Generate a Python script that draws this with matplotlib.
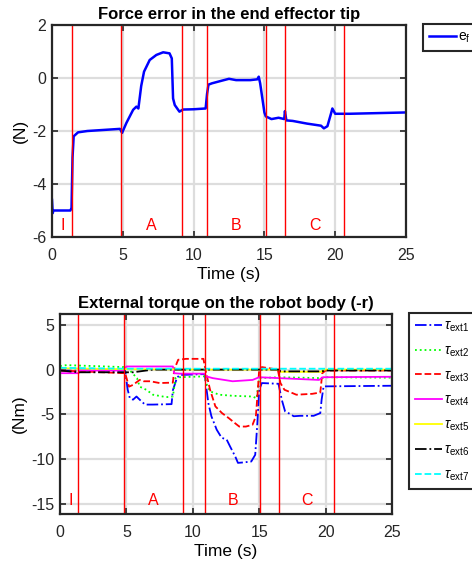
import matplotlib
matplotlib.use("Agg")
import matplotlib.pyplot as plt

plt.rcParams['font.family'] = ['Liberation Sans', 'DejaVu Sans']
plt.rcParams['mathtext.fontset'] = 'custom'
plt.rcParams['mathtext.rm'] = 'Liberation Sans'
plt.rcParams['mathtext.it'] = 'Liberation Sans:italic'
plt.rcParams['axes.unicode_minus'] = False

# ---- data ----
t_ef = [0, 0.05, 0.1, 1.3, 1.38, 1.45, 1.53, 1.84, 2.5, 4.8, 4.95, 5.25, 5.73, 5.96, 6.1, 6.3, 6.5,
        6.9, 7.37, 7.85, 8.3, 8.46, 8.55, 8.67, 9.0, 9.25, 10.0, 10.85, 10.95, 11.05, 11.3, 12.0,
        12.5, 13.0, 14.0, 14.5, 14.6, 14.7, 15.0, 15.1, 15.5, 16.0, 16.4, 16.45, 16.55, 17.0, 18.0,
        19.0, 19.2, 19.45, 19.7, 19.8, 20.0, 21.0, 25.0]
e_f = [-4.6, -5.1, -5.0, -5.0, -4.9, -3.0, -2.2, -2.05, -2.0, -1.92, -2.07, -1.7, -1.2, -1.08, -1.15,
       -0.3, 0.24, 0.68, 0.87, 0.97, 0.93, 0.74, -0.77, -1.02, -1.27, -1.19, -1.18, -1.15, -0.6,
       -0.25, -0.2, -0.1, -0.03, -0.08, -0.08, -0.05, 0.05, -0.2, -1.3, -1.45, -1.55, -1.5, -1.55,
       -1.25, -1.6, -1.62, -1.72, -1.8, -1.9, -1.82, -1.35, -1.15, -1.35, -1.35, -1.3]

t1 = [0, 4.9, 5.1, 5.26, 5.5, 5.76, 6.0, 6.4, 7.0, 8.4, 8.5, 8.8, 9.0, 10.9, 11.04, 11.17, 11.4,
      11.8, 12.17, 12.55, 12.8, 13.2, 13.4, 13.8, 14.4, 14.7, 14.86, 15.0, 15.2, 16.45, 16.7,
      16.95, 17.3, 17.6, 18.1, 19.1, 19.6, 19.7, 19.85, 25.0]
tau1 = [-0.1, -0.1, -2.25, -3.2, -3.35, -3.0, -3.35, -3.9, -3.9, -3.85, -2.3, -0.95, -0.6, -0.5,
        -2.25, -3.73, -5.2, -6.7, -7.6, -7.8, -8.55, -9.7, -10.4, -10.35, -10.25, -9.5, -6.0,
        -2.25, -1.5, -1.58, -3.36, -4.66, -4.93, -5.2, -5.15, -5.15, -4.85, -3.36, -1.87, -1.8]

t2 = [0, 0.5, 4.8, 5.2, 5.8, 6.0, 6.5, 7.0, 8.0, 8.5, 8.7, 9.0, 10.9, 11.0, 11.3, 12.0, 13.0, 14.5,
      14.8, 15.0, 16.5, 19.7, 20.0, 25.0]
tau2 = [0.4, 0.5, 0.28, 0.0, -0.95, -1.9, -2.25, -2.8, -3.07, -3.0, -0.95, -0.85, -0.75, -1.5,
        -2.43, -2.8, -2.92, -3.0, -3.2, -0.95, -0.85, -0.95, -0.85, -0.9]

t3 = [0, 4.9, 5.2, 5.5, 6.0, 6.3, 6.8, 7.5, 8.5, 8.6, 8.9, 9.5, 10.8, 10.95, 11.1, 11.3, 11.7, 12.2,
      12.7, 13.2, 13.5, 14.0, 14.5, 14.75, 14.9, 15.0, 15.2, 16.4, 16.6, 16.9, 17.2, 17.8, 19.0,
      19.6, 19.75, 20.0, 25.0]
tau3 = [-0.1, -0.4, -1.9, -1.7, -1.15, -1.3, -1.3, -1.5, -1.45, 0.0, 1.1, 1.2, 1.2, 0.0, -0.95,
        -2.25, -4.1, -4.85, -5.4, -6.0, -6.35, -6.35, -6.15, -5.2, -2.25, 0.0, 0.28, 0.0, -1.5,
        -2.25, -2.43, -2.8, -2.7, -2.55, -0.4, -0.1, -0.1]

t4 = [0, 1.4, 1.5, 4.8, 5.0, 8.5, 8.6, 9.0, 10.9, 11.0, 11.5, 13.0, 14.5, 15.0, 16.5, 19.5, 19.8, 25.0]
tau4 = [-0.4, -0.4, -0.1, -0.1, 0.35, 0.35, -0.4, -0.45, -0.45, -0.75, -0.95, -1.3, -1.15, -0.85,
        -0.95, -1.15, -0.85, -0.8]

t5 = [0, 5.0, 10.9, 16.5, 16.6, 19.7, 19.8, 25.0]
tau5 = [0.15, 0.05, 0.0, 0.0, -0.25, -0.25, 0.0, 0.0]

t6 = [0, 1.4, 4.8, 5.5, 6.5, 7.0, 16.5, 16.6, 19.7, 20.0, 25.0]
tau6 = [-0.1, -0.3, -0.3, -0.3, -0.1, 0.0, 0.0, -0.2, -0.2, -0.1, -0.1]

t7 = [0, 5.0, 15.0, 25.0]
tau7 = [0.2, 0.1, 0.1, 0.1]

phase_lines_top = [1.41, 4.85, 9.21, 10.93, 15.08, 16.47, 20.64]
phase_lines_bot = [1.38, 4.83, 9.23, 10.92, 15.09, 16.47, 20.67]
phase_labels = ['I', 'A', 'B', 'C']
phase_label_x = [0.78, 7.0, 13.0, 18.6]

fig = plt.figure(figsize=(4.72, 5.66), dpi=100)

def style(ax):
    ax.grid(True, color='#dddddd', lw=1.6)
    ax.set_axisbelow(True)
    for s in ax.spines.values():
        s.set_color('#262626')
        s.set_linewidth(1.6)
    ax.tick_params(direction='in', top=True, right=True, length=4, width=1.2,
                   colors='#262626', labelsize=11.5)
    ax.tick_params(axis='x', pad=8)
    ax.tick_params(axis='y', pad=4)
    ax.set_xlim(0, 25)
    ax.set_xticks([0, 5, 10, 15, 20, 25])

def leg(ax, x0, y0, spacing):
    lg = ax.legend(loc='upper left', bbox_to_anchor=(x0/472, 1-y0/566), bbox_transform=fig.transFigure,
                   fancybox=False, edgecolor='#262626', framealpha=1, fontsize=10, handlelength=1.95,
                   handletextpad=0.15, borderpad=0.4, labelspacing=spacing, borderaxespad=0)
    lg.get_frame().set_linewidth(1.5)

# ---- top ----
ax1 = fig.add_axes([52/472, 1-237/566, 354/472, 212/566])
style(ax1)
ax1.set_ylim(-6, 2)
ax1.set_yticks([-6, -4, -2, 0, 2])
ax1.plot(t_ef, e_f, color='#0000ff', lw=1.8, label=r'e$_\mathrm{f}$')
for x in phase_lines_top:
    ax1.axvline(x, color='red', lw=1.0)
for lab, x in zip(phase_labels, phase_label_x):
    ax1.text(x, -5.55, lab, color='red', fontsize=11.5, ha='center', va='center')
ax1.set_title('Force error in the end effector tip', fontsize=12, fontweight='bold', pad=4)
ax1.set_xlabel('Time (s)', fontsize=12.5, labelpad=3)
ax1.set_ylabel('(N)', fontsize=12.5, labelpad=3)
leg(ax1, 423, 24, 0.5)

# ---- bottom ----
ax2 = fig.add_axes([60/472, 1-514/566, 332/472, 200/566])
style(ax2)
ax2.set_ylim(-16.1, 6.2)
ax2.set_yticks([-15, -10, -5, 0, 5])
ax2.plot(t1, tau1, color='#0000ff', lw=1.3, ls='-.', label=r'$\tau_\mathrm{ext1}$')
ax2.plot(t2, tau2, color='#00ff00', lw=1.3, ls=':', label=r'$\tau_\mathrm{ext2}$')
ax2.plot(t3, tau3, color='#ff0000', lw=1.3, ls='--', label=r'$\tau_\mathrm{ext3}$')
ax2.plot(t4, tau4, color='#ff00ff', lw=1.3, ls='-', label=r'$\tau_\mathrm{ext4}$')
ax2.plot(t5, tau5, color='#ffff00', lw=1.3, ls='-', label=r'$\tau_\mathrm{ext5}$')
ax2.plot(t6, tau6, color='#000000', lw=1.3, ls='-.', label=r'$\tau_\mathrm{ext6}$')
ax2.plot(t7, tau7, color='#00ffff', lw=1.3, ls='--', label=r'$\tau_\mathrm{ext7}$')
for x in phase_lines_bot:
    ax2.axvline(x, color='red', lw=1.0)
for lab, x in zip(phase_labels, phase_label_x):
    ax2.text(x, -14.6, lab, color='red', fontsize=11.5, ha='center', va='center')
ax2.set_title('External torque on the robot body (-r)', fontsize=12, fontweight='bold', pad=4)
ax2.set_xlabel('Time (s)', fontsize=12.5, labelpad=3)
ax2.set_ylabel('(Nm)', fontsize=12.5, labelpad=3)
leg(ax2, 409, 313, 0.68)

fig.savefig('out.png', dpi=100)
